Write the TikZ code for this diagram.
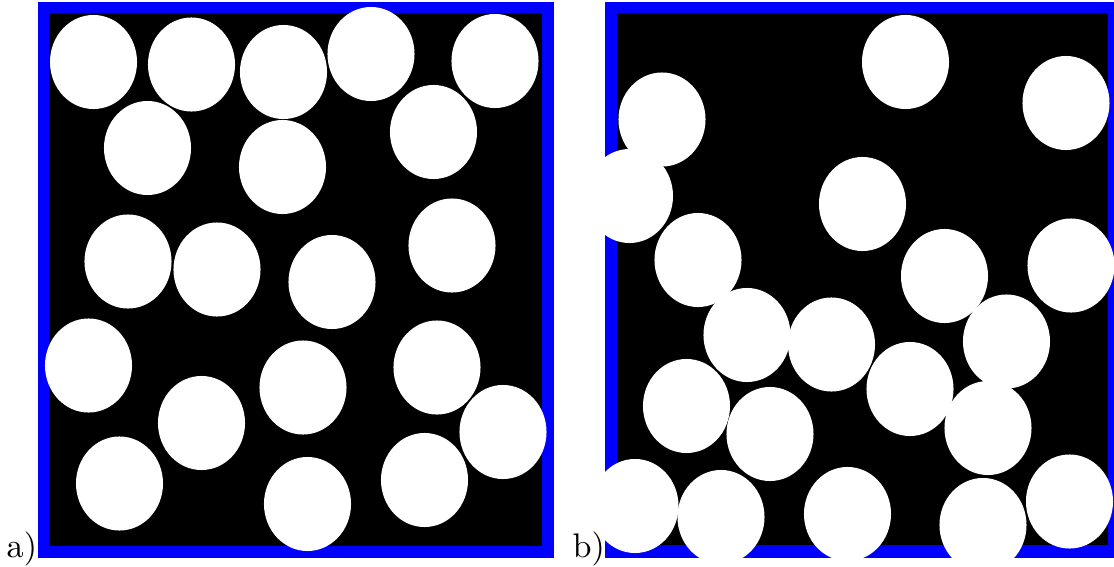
\documentclass[tikz,border=0pt]{standalone}
\begin{document}
\begin{tikzpicture}[x=0.01cm,y=-0.01cm,
  frameout/.style={fill=blue},
  framein/.style={fill=black},
  grain/.style={fill=white},
  lbl/.style={anchor=base west,inner sep=0pt,font=\fontsize{9.7pt}{11pt}\selectfont}]
\useasboundingbox (0,0) rectangle (1114,566);
% panel a
\fill[frameout] (38,2) rectangle (554,558);
\fill[framein] (49,13) rectangle (542,546);
\begin{scope}
\clip (38,2) rectangle (554,558);
\foreach \x/\y in {93.5/62, 191.5/64.5, 283.5/72, 371/54, 495/61,
  147.5/148, 282.5/167, 433.5/132,
  128/261.5, 217/269.5, 332/282, 452/245.5,
  88.5/365.5, 201.5/423, 303/387.5, 437/367.5, 503/432,
  119.5/483.5, 307.5/504, 424.5/480}
  \fill[grain] (\x,\y) ellipse [x radius=0.435cm, y radius=0.47cm];
\end{scope}
% panel b
\fill[frameout] (605,2) rectangle (1114,558);
\fill[framein] (617,13) rectangle (1108,545);
\begin{scope}
\clip (605,2) rectangle (1114,558);
\foreach \x/\y in {905.5/62, 1066/103, 662/119.5, 629.5/196, 862.5/204,
  698/260, 944.5/276, 1071/265.5, 747/335, 831.5/344.5,
  1006.5/341.5, 910/389, 686.5/406, 770/434, 988/428,
  635/506, 721/517, 847.5/514, 983/525, 1069.5/501.5}
  \fill[grain] (\x,\y) ellipse [x radius=0.435cm, y radius=0.47cm];
\end{scope}
\node[lbl] (la) at (6,557) {a)};
\node[lbl] (lb) at (572,557) {b)};
\end{tikzpicture}
\end{document}
